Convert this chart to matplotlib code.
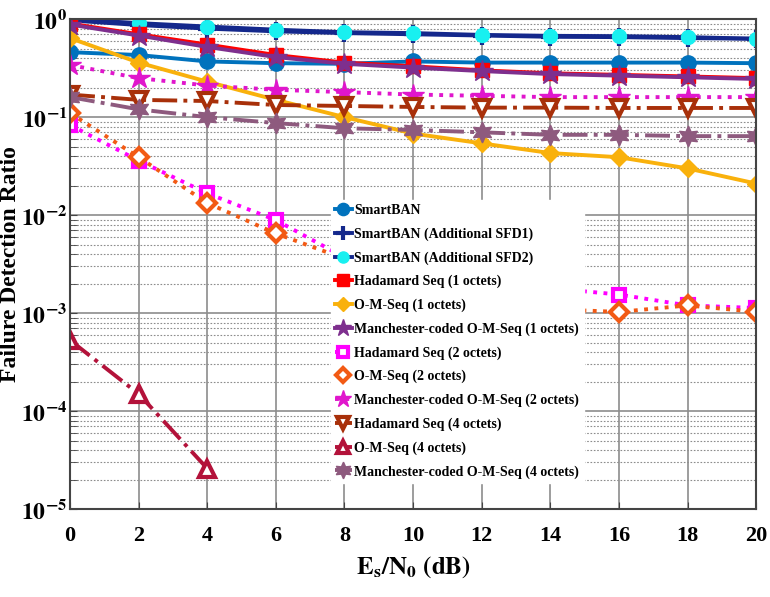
import numpy as np
import matplotlib
matplotlib.use("Agg")
import matplotlib.pyplot as plt
from matplotlib.ticker import FixedLocator, NullFormatter

plt.rcParams["font.family"] = ["Liberation Serif", "DejaVu Serif"]
plt.rcParams["mathtext.fontset"] = "stix"

snr = [0, 2, 4, 6, 8, 10, 12, 14, 16, 18, 20]
snr_short = [0, 2, 4]

smartban = [0.46, 0.43, 0.37, 0.355, 0.35, 0.37, 0.36, 0.36, 0.36, 0.36, 0.355]
smartban_sfd1 = [0.97, 0.87, 0.80, 0.75, 0.72, 0.70, 0.68, 0.66, 0.655, 0.64, 0.63]
smartban_sfd2 = [1.0, 0.91, 0.84, 0.78, 0.735, 0.72, 0.69, 0.675, 0.67, 0.655, 0.63]
hadamard_1 = [0.90, 0.70, 0.55, 0.43, 0.36, 0.33, 0.30, 0.28, 0.27, 0.26, 0.25]
omseq_1 = [0.64, 0.36, 0.23, 0.15, 0.10, 0.068, 0.054, 0.043, 0.039, 0.030, 0.021]
manch_1 = [0.88, 0.68, 0.52, 0.41, 0.35, 0.32, 0.295, 0.275, 0.265, 0.255, 0.245]
hadamard_2 = [0.083, 0.036, 0.0167, 0.0089, 0.0037, 0.0026, 0.0021, 0.0018, 0.00155, 0.0012, 0.00113]
omseq_2 = [0.11, 0.039, 0.0133, 0.0065, 0.0036, 0.0022, 0.0015, 0.0011, 0.00103, 0.0012, 0.00103]
manch_2 = [0.34, 0.25, 0.21, 0.19, 0.18, 0.17, 0.165, 0.16, 0.16, 0.16, 0.16]
hadamard_4 = [0.17, 0.15, 0.146, 0.133, 0.13, 0.127, 0.125, 0.125, 0.124, 0.124, 0.124]
omseq_4 = [5.3e-4, 1.5e-4, 2.6e-5]
manch_4 = [0.16, 0.12, 0.10, 0.087, 0.077, 0.074, 0.07, 0.066, 0.066, 0.064, 0.064]

decades = [-5, -4, -3, -2, -1, 0]
xticks = [0, 2, 4, 6, 8, 10, 12, 14, 16, 18, 20]

fig = plt.figure(figsize=(7.7, 5.97), dpi=100)
ax = fig.add_axes([0.091, 0.147, 0.891, 0.821])

lw = 2.8
series = [
    (snr, smartban, "SmartBAN", dict(color="#0072BD", ls="-", marker="o", ms=11)),
    (snr, smartban_sfd1, "SmartBAN (Additional SFD1)", dict(color="#14288C", ls="-", marker="+", ms=13, mew=3)),
    (snr, smartban_sfd2, "SmartBAN (Additional SFD2)", dict(color="#14288C", ls="-", marker="o", ms=10,
                                                            mfc="#18F0F0", mec="#18F0F0")),
    (snr, hadamard_1, "Hadamard Seq (1 octets)", dict(color="#FF0000", ls="-", marker="s", ms=10)),
    (snr, omseq_1, "O-M-Seq (1 octets)", dict(color="#F9B10C", ls="-", marker="D", ms=9)),
    (snr, manch_1, "Manchester-coded O-M-Seq (1 octets)", dict(color="#7E2F8E", ls="-", marker="*", ms=16)),
    (snr, hadamard_2, "Hadamard Seq (2 octets)", dict(color="#FF00FF", ls=":", marker="s", ms=9,
                                                      mfc="white", mew=3)),
    (snr, omseq_2, "O-M-Seq (2 octets)", dict(color="#F25A14", ls=":", marker="D", ms=9,
                                               mfc="white", mew=3)),
    (snr, manch_2, "Manchester-coded O-M-Seq (2 octets)", dict(color="#E016CC", ls=":", marker="*", ms=16)),
    (snr, hadamard_4, "Hadamard Seq (4 octets)", dict(color="#A8300A", ls="-.", marker="v", ms=11,
                                                      mfc="white", mew=3)),
    (snr_short, omseq_4, "O-M-Seq (4 octets)", dict(color="#B3123A", ls="-.", marker="^", ms=11,
                                                   mfc="white", mew=3)),
    (snr, manch_4, "Manchester-coded O-M-Seq (4 octets)", dict(color="#8E5A7E", ls="-.", marker=(6, 1, 0), ms=15)),
]

for x, y, label, style in series:
    ax.plot(x, y, label=label, lw=lw, **style)

ax.set_yscale("log")
ax.set_xlim(0, 20)
ax.set_ylim(1e-5, 1)
ax.yaxis.set_major_locator(FixedLocator([10.0 ** e for e in decades]))
minor = [m * 10.0 ** e for e in decades[:-1] for m in range(2, 10)]
ax.yaxis.set_minor_locator(FixedLocator(minor))
ax.yaxis.set_minor_formatter(NullFormatter())
ax.set_yticklabels([r"$\mathbf{10^{%d}}$" % e for e in decades], fontsize=17)
ax.set_xticks(xticks)
ax.set_xticklabels([str(v) for v in xticks], fontsize=16, fontweight="bold")

ax.grid(True, which="major", color="#8c8c8c", lw=1.2, ls="-")
ax.grid(True, which="minor", axis="y", color="#8c8c8c", lw=0.8, ls=(0, (1.5, 1.5)))
ax.tick_params(which="both", direction="in", length=5, color="#444444")
ax.tick_params(axis="x", pad=12)
ax.tick_params(axis="y", pad=2)
for s in ax.spines.values():
    s.set_color("#444444")
    s.set_linewidth(1.5)

ax.set_ylabel("Failure Detection Ratio", fontsize=17, fontweight="bold")
ax.yaxis.set_label_coords(-0.072, 0.5)
ax.set_xlabel(r"$\mathbf{E_s/N_0}$ $\mathbf{(dB)}$", fontsize=18, labelpad=6)

leg = ax.legend(loc="lower left", bbox_to_anchor=(0.37, 0.04),
                prop={"weight": "bold", "size": 10}, frameon=True, framealpha=1,
                edgecolor="white", fancybox=False, handlelength=1.2, handletextpad=0.2,
                labelspacing=0.74, borderpad=0.3, markerscale=0.8)

fig.savefig("out.png", dpi=100)
